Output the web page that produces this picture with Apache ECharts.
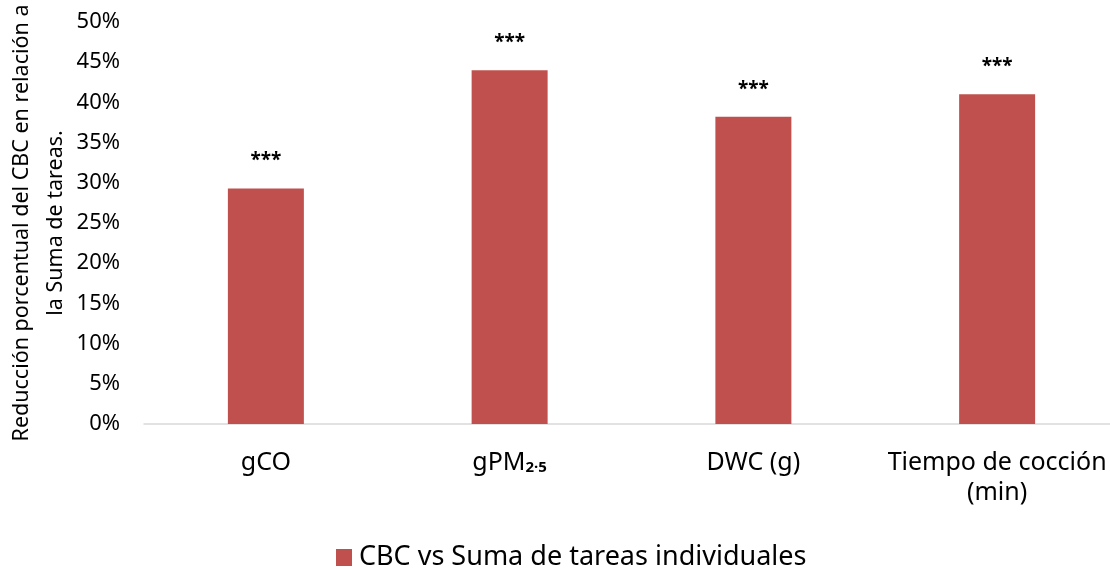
<!DOCTYPE html>
<html>
<head>
<meta charset="utf-8">
<script src="https://cdn.jsdelivr.net/npm/echarts@6/dist/echarts.min.js"></script>
<style>
  html, body { margin: 0; padding: 0; background: #fff; }
  #chart { width: 1110px; height: 571px; }
</style>
</head>
<body>
<div id="chart"></div>
<script>
// Categories (x axis), reduction values in percent, significance marks
const categories = ['gCO', 'gPM2.5', 'DWC (g)', 'Tiempo de cocción\n(min)'];
const reduction = [29.3, 44.0, 38.2, 41.0];
const significance = ['***', '***', '***', '***'];
const seriesName = 'CBC vs Suma de tareas individuales';
const yAxisName = 'Reducción porcentual del CBC en relación a\nla Suma de tareas.';

const FONT = '"Noto Sans", "Open Sans", sans-serif';
const chart = echarts.init(document.getElementById('chart'));

chart.setOption({
  animation: false,
  textStyle: { fontFamily: FONT },
  grid: { left: 144, top: 22, width: 975, height: 402, containLabel: false, outerBoundsMode: 'none' },
  legend: {
    data: [seriesName],
    left: 331,
    top: 539,
    itemWidth: 16,
    itemHeight: 17,
    itemGap: 4,
    icon: 'rect',
    textStyle: { fontSize: 27, color: '#000', fontFamily: FONT, padding: [0, 0, 0, 2] }
  },
  xAxis: {
    type: 'category',
    data: categories,
    axisLine: { lineStyle: { color: '#d9d9d9', width: 1.5 } },
    axisTick: { show: false },
    axisLabel: {
      interval: 0,
      color: '#000',
      fontSize: 25,
      margin: 24,
      lineHeight: 30,
      fontFamily: FONT,
      // PM2.5 written with a subscript "2·5"
      formatter: v => v.replace('PM2.5', 'PM{sub|2·5}'),
      rich: {
        sub: { fontSize: 15, fontWeight: 'bold', color: '#000', fontFamily: FONT, padding: [10, 0, 0, 0], lineHeight: 30 }
      }
    }
  },
  yAxis: {
    type: 'value',
    min: 0,
    max: 50,
    interval: 5,
    name: yAxisName,
    nameLocation: 'middle',
    nameRotate: 90,
    nameGap: 71,
    nameMoveOverlap: false,
    nameTextStyle: { color: '#000', fontSize: 21.5, lineHeight: 34, fontFamily: FONT },
    axisLine: { show: false },
    axisTick: { show: false },
    splitLine: { show: false },
    axisLabel: { color: '#000', fontSize: 22, margin: 24, formatter: '{value}%', fontFamily: FONT }
  },
  series: [{
    name: seriesName,
    type: 'bar',
    data: reduction,
    barWidth: 76,
    itemStyle: { color: '#c0504d' },
    label: {
      show: true,
      position: 'top',
      distance: 18,
      color: '#000',
      fontSize: 19,
      fontWeight: 'bold',
      fontFamily: FONT,
      formatter: p => significance[p.dataIndex]
    }
  }]
});
</script>
</body>
</html>
